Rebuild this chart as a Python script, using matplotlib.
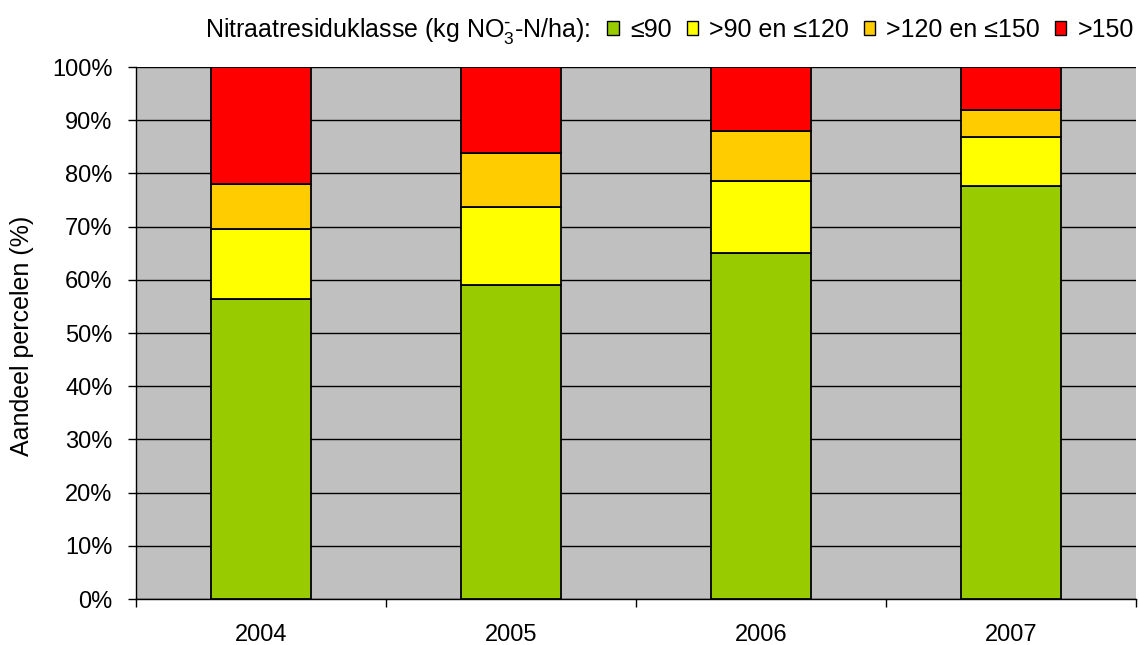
import numpy as np
import matplotlib.pyplot as plt
from matplotlib.patches import Patch

plt.rcParams['font.family'] = ['Liberation Sans', 'DejaVu Sans']
plt.rcParams['mathtext.default'] = 'regular'

# Share of parcels per nitrate residue class (%)
years = ['2004', '2005', '2006', '2007']
klasse_le90 = [56.3, 59.0, 65.0, 77.7]
klasse_90_120 = [13.2, 14.6, 13.5, 9.1]
klasse_120_150 = [8.6, 10.2, 9.4, 5.2]
klasse_gt150 = [21.9, 16.2, 12.1, 8.0]

labels = ['≤90', '>90 en ≤120', '>120 en ≤150', '>150']
colors = ['#99CC00', '#FFFF00', '#FFCC00', '#FF0000']

W, H = 1139, 645
FS = 17
FS_TXT = 18

fig = plt.figure(figsize=(W / 100, H / 100), dpi=100)
ax = fig.add_axes([136 / W, 1 - 599 / H, 1000 / W, 532 / H])
ax.set_facecolor('#C0C0C0')

x = np.arange(len(years))
bottom = np.zeros(len(years))
for vals, col in zip([klasse_le90, klasse_90_120, klasse_120_150, klasse_gt150], colors):
    ax.bar(x, vals, width=0.4, bottom=bottom, color=col, edgecolor='black',
           linewidth=1.3, zorder=3)
    bottom += np.array(vals)

ax.set_xlim(-0.5, len(years) - 0.5)
ax.set_ylim(0, 100)
ax.set_yticks(np.arange(0, 101, 10))
ax.set_yticklabels([f'{v}%' for v in range(0, 101, 10)])
ax.yaxis.grid(True, color='black', linewidth=1.0, zorder=1)
ax.set_axisbelow(True)

ax.set_xticks(x)
ax.set_xticklabels(years)
ax.set_xticks(np.arange(-0.5, len(years), 1), minor=True)
ax.tick_params(axis='x', which='major', length=0, pad=18, labelsize=FS)
ax.tick_params(axis='x', which='minor', length=6, width=1, direction='out')
ax.tick_params(axis='y', length=6, width=1, direction='out', labelsize=FS, pad=11)

for s in ['top', 'right']:
    ax.spines[s].set_visible(False)
for s in ['left', 'bottom']:
    ax.spines[s].set_linewidth(1)

fig.text(22 / W, 1 - 336 / H, 'Aandeel percelen (%)', rotation=90,
         ha='center', va='center', fontsize=FS_TXT)

fig.text(590 / W, 1 - 31 / H, r'Nitraatresiduklasse (kg NO$_3^{\text{-}}$-N/ha):',
         ha='right', va='center', fontsize=FS_TXT)
handles = [Patch(facecolor=c, edgecolor='black', linewidth=1) for c in colors]
fig.legend(handles, labels, ncol=4, loc='center right',
           bbox_to_anchor=(1134 / W, 1 - 30 / H), frameon=False,
           fontsize=FS_TXT, handlelength=0.45, handleheight=0.45,
           handletextpad=0.45, columnspacing=0.6, borderaxespad=0,
           borderpad=0)

fig.savefig('out.png', dpi=100)
